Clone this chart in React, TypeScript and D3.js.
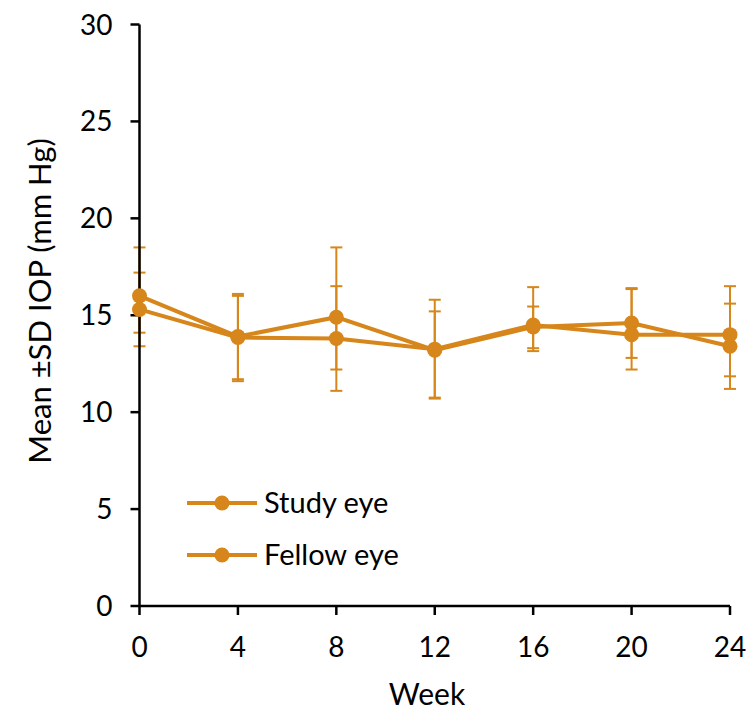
import React from "react";
import * as d3 from "d3";

const weeks = [0, 4, 8, 12, 16, 20, 24];
const studyMean = [16.0, 13.9, 14.9, 13.2, 14.4, 14.6, 13.4];
const studyUpper = [18.5, 16.1, 18.5, 15.8, 16.45, 16.4, 16.5];
const studyLower = [13.4, 11.7, 12.2, 10.75, 13.3, 12.8, 11.2];
const fellowMean = [15.3, 13.85, 13.8, 13.25, 14.5, 14.0, 14.0];
const fellowUpper = [17.2, 16.0, 16.5, 15.2, 15.45, 16.35, 15.6];
const fellowLower = [14.1, 11.6, 11.1, 10.7, 13.15, 12.2, 11.85];
const yTicks = [0, 5, 10, 15, 20, 25, 30];
const seriesNames = ["Study eye", "Fellow eye"];

const W = 749;
const H = 711;
const COLOR = "#D6861A";
const FONT = "Lato, 'Open Sans', sans-serif";

export default function App() {
  const x = d3.scaleLinear().domain([0, 24]).range([139.5, 730]);
  const y = d3.scaleLinear().domain([0, 30]).range([606, 24.5]);
  const line = d3
    .line<[number, number]>()
    .x((d) => x(d[0]))
    .y((d) => y(d[1]));

  const series = [
    { name: seriesNames[0], mean: studyMean, up: studyUpper, lo: studyLower },
    { name: seriesNames[1], mean: fellowMean, up: fellowUpper, lo: fellowLower },
  ];

  const cap = 6;

  return (
    <svg
      width={W}
      height={H}
      style={{ position: "absolute", left: 0, top: 0, background: "#fff" }}
      fontFamily={FONT}
    >
      {/* error bars */}
      {series.map((s, si) => (
        <g key={"eb" + si} stroke={COLOR} strokeWidth={2}>
          {weeks.map((w, i) => (
            <g key={i}>
              <line x1={x(w)} x2={x(w)} y1={y(s.up[i])} y2={y(s.lo[i])} />
              <line x1={x(w) - cap} x2={x(w) + cap} y1={y(s.up[i])} y2={y(s.up[i])} />
              <line x1={x(w) - cap} x2={x(w) + cap} y1={y(s.lo[i])} y2={y(s.lo[i])} />
            </g>
          ))}
        </g>
      ))}
      {/* axes */}
      <g stroke="#000" strokeWidth={2.5}>
        <line x1={x(0)} x2={x(0)} y1={y(30)} y2={y(0)} />
        <line x1={x(0)} x2={x(24)} y1={y(0)} y2={y(0)} />
        {yTicks.map((t) => (
          <line key={"yt" + t} x1={x(0) - 9} x2={x(0)} y1={y(t)} y2={y(t)} />
        ))}
        {weeks.map((t) => (
          <line key={"xt" + t} x1={x(t)} x2={x(t)} y1={y(0)} y2={y(0) + 9} />
        ))}
      </g>
      {yTicks.map((t) => (
        <text
          key={"yl" + t}
          x={x(0) - 27}
          y={y(t)}
          dy="0.36em"
          textAnchor="end"
          fontSize={28}
          fill="#000"
        >
          {t}
        </text>
      ))}
      {weeks.map((t) => (
        <text
          key={"xl" + t}
          x={x(t)}
          y={y(0) + 51}
          textAnchor="middle"
          fontSize={28}
          fill="#000"
        >
          {t}
        </text>
      ))}
      <text x={427} y={705} textAnchor="middle" fontSize={30} fill="#000">
        Week
      </text>
      <text
        transform={`translate(51, 301) rotate(-90)`}
        textAnchor="middle"
        fontSize={31}
        fill="#000"
      >
        Mean ±SD IOP (mm Hg)
      </text>
      {/* lines and markers */}
      {series.map((s, si) => (
        <g key={"ln" + si}>
          <path
            d={line(weeks.map((w, i) => [w, s.mean[i]] as [number, number])) || ""}
            fill="none"
            stroke={COLOR}
            strokeWidth={4}
          />
          {weeks.map((w, i) => (
            <circle key={i} cx={x(w)} cy={y(s.mean[i])} r={7.5} fill={COLOR} />
          ))}
        </g>
      ))}
      {/* legend */}
      {series.map((s, si) => {
        const ly = 503 + si * 52;
        return (
          <g key={"lg" + si}>
            <line x1={187} x2={257} y1={ly} y2={ly} stroke={COLOR} strokeWidth={4} />
            <circle cx={222} cy={ly} r={7.5} fill={COLOR} />
            <text x={264} y={ly} dy="0.36em" fontSize={29} fill="#000">
              {s.name}
            </text>
          </g>
        );
      })}
    </svg>
  );
}
